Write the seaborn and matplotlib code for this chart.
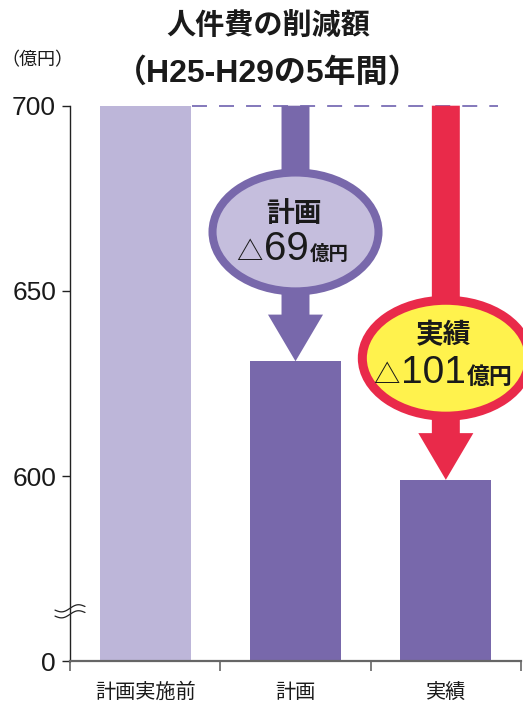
import matplotlib
matplotlib.use("Agg")
import numpy as np
import matplotlib.pyplot as plt
import matplotlib.transforms as mtransforms
from matplotlib.patches import Ellipse, FancyArrow
from matplotlib.offsetbox import TextArea, HPacker, AnnotationBbox
import seaborn as sns

# ---- data -------------------------------------------------------------
categories = ["計画実施前", "計画", "実績"]
values = [700, 631, 599]          # 億円
reductions = [69, 101]            # 計画 / 実績 の削減額
reduction_titles = ["計画", "実績"]
axis_ticks = [550, 600, 650, 700]
axis_tick_labels = ["0", "600", "650", "700"]

# ---- style ------------------------------------------------------------
sns.set_theme(style="ticks")
plt.rcParams["font.family"] = ["Liberation Sans", "Noto Sans CJK JP"]
CJK = ["Noto Sans CJK JP", "DejaVu Sans"]

LIGHT = "#bdb6d9"
PURPLE = "#7868ab"
RED = "#e92a4a"
YELLOW = "#fff24d"
LAVENDER = "#c5bedd"
INK = "#1a1a1a"

W, H = 523, 704
fig = plt.figure(figsize=(W / 100, H / 100), dpi=100)
ax = fig.add_axes([70 / W, (H - 661.3) / H, (521 - 70) / W, (661.3 - 105.7) / H])

sns.barplot(x=categories, y=values, hue=categories,
            palette=[LIGHT, PURPLE, PURPLE], width=0.605, saturation=1,
            linewidth=0, legend=False, ax=ax)

ax.set_xlim(-0.5, 2.5)
ax.set_ylim(axis_ticks[0], axis_ticks[-1])
ax.set_xlabel("")
ax.set_ylabel("")

# axes / ticks
ax.set_yticks(axis_ticks, axis_tick_labels)
ax.tick_params(axis="y", direction="out", length=6, width=1.0, color="#222222",
               labelsize=19, pad=4, labelcolor=INK)
ax.set_xticks(range(len(categories)), categories, fontfamily=CJK)
ax.set_xticks(np.arange(-0.5, len(categories)), minor=True)
ax.tick_params(axis="x", which="major", length=0, labelsize=14.5, pad=15,
               labelcolor=INK)
ax.tick_params(axis="x", which="minor", direction="out", length=7, width=1.2,
               color="#666666")
for side in ("top", "right"):
    ax.spines[side].set_visible(False)
ax.spines["left"].set_color("#222222")
ax.spines["left"].set_linewidth(1.0)
ax.spines["bottom"].set_color("#666666")
ax.spines["bottom"].set_linewidth(1.6)

# axis-break mark on the y axis
t = np.linspace(-15, 15, 60)
wave = 2.6 * np.sin(t / 15 * np.pi) + 0.12 * t
anchor = mtransforms.ScaledTranslation(-0.5, 563.5, ax.transData)
brk = mtransforms.Affine2D() + anchor
for off in (3.0, -3.0):
    ax.plot(t, wave + off, color="#222222", lw=0.9, transform=brk, clip_on=False)

# baseline reference line at the pre-plan level
ax.plot([0.31, 2.35], [values[0], values[0]], color="#8378bb", lw=1.4,
        ls=(0, (7.7, 6.2)), clip_on=False, zorder=3)

# reduction arrows with their labels
arrow_specs = [
    dict(cat=1, color=PURPLE, face=LAVENDER, frac=0.494, ew=1.104, eh=32.1,
         elw=5.8, title_dy=18, line_dy=-12.5, tri=19, num=29, unit=14),
    dict(cat=2, color=RED, face=YELLOW, frac=0.675, ew=1.111, eh=31.3,
         elw=6.5, title_dy=23, line_dy=-11, tri=19, num=28, unit=16.5),
]
base = values[0]
for spec, red, title in zip(arrow_specs, reductions, reduction_titles):
    x = spec["cat"]
    top = values[x]
    arr = FancyArrow(x, base, 0, -(base - top), width=0.186, head_width=0.366,
                     head_length=12.6, length_includes_head=True,
                     color=spec["color"], lw=0, clip_on=False, zorder=4)
    ax.add_patch(arr)
    cy = base - spec["frac"] * red
    ell = Ellipse((x, cy), width=spec["ew"], height=spec["eh"],
                  facecolor=spec["face"], edgecolor=spec["color"],
                  lw=spec["elw"], clip_on=False, zorder=5)
    ax.add_patch(ell)

    ax.text(x, cy, title, transform=mtransforms.offset_copy(
                ax.transData, fig, x=-2, y=spec["title_dy"], units="dots"),
            ha="center", va="center", fontsize=20, fontweight="bold",
            fontfamily=CJK, color=INK, zorder=6)

    line = HPacker(children=[
        TextArea("△", textprops=dict(fontsize=spec["tri"], fontfamily=CJK,
                                      color=INK)),
        TextArea(str(red), textprops=dict(fontsize=spec["num"],
                                          fontfamily=["Liberation Sans"],
                                          color=INK)),
        TextArea("億円", textprops=dict(fontsize=spec["unit"], fontfamily=CJK,
                                       fontweight="bold", color=INK)),
    ], align="baseline", pad=0, sep=1)
    ab = AnnotationBbox(line, (x, cy), xybox=(-2, spec["line_dy"]),
                        xycoords="data", boxcoords="offset points",
                        frameon=False, box_alignment=(0.5, 0.5), zorder=6,
                        annotation_clip=False)
    ax.add_artist(ab)

# titles
fig.text(268 / W, 1 - 25 / H, "人件費の削減額", ha="center", va="center",
         fontsize=21, fontweight="bold", fontfamily=CJK, color=INK)
fig.text(268 / W, 1 - 73 / H, "（H25-H29の5年間）", ha="center", va="center",
         fontsize=23, fontweight="bold",
         fontfamily=["Liberation Sans", "Noto Sans CJK JP"], color=INK)
fig.text(1 / W, 1 - 60 / H, "（億円）", ha="left", va="center",
         fontsize=13, fontfamily=CJK, color=INK)

fig.savefig("out.png", dpi=100)
